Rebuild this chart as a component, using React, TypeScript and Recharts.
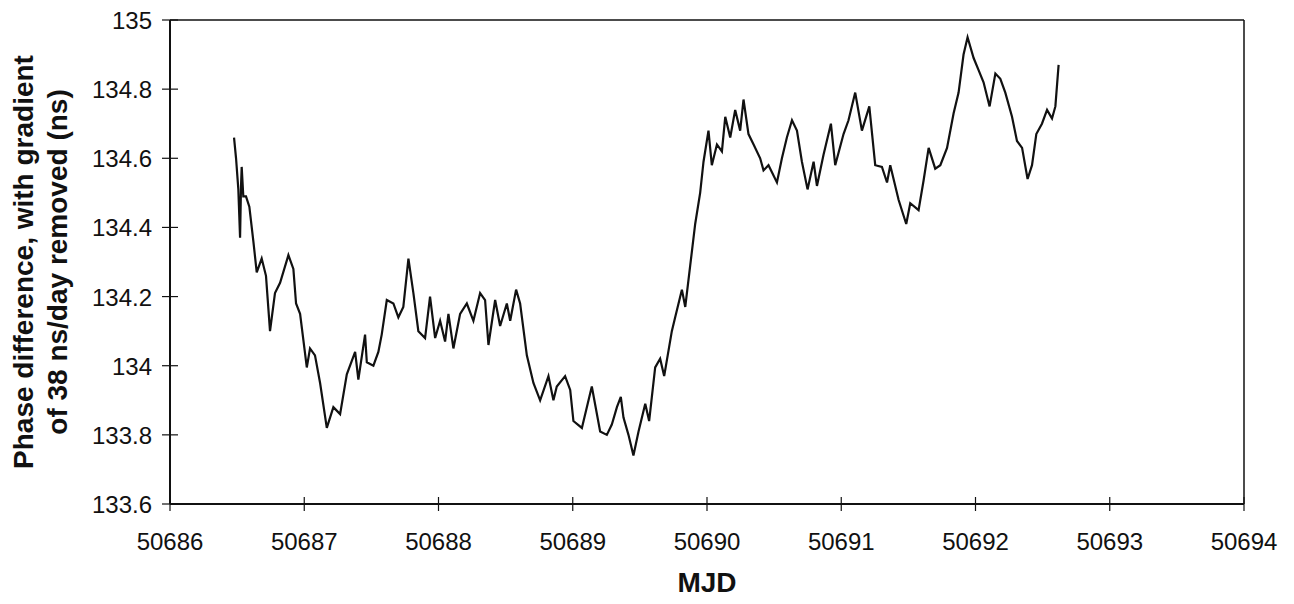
import {LineChart, Line, XAxis, YAxis, ReferenceLine} from "recharts"

const mjd = [
    50686.477, 50686.492, 50686.509, 50686.522, 50686.529, 50686.534, 50686.546, 50686.566, 50686.591, 50686.621,
    50686.646, 50686.683, 50686.715, 50686.745, 50686.782, 50686.820, 50686.882, 50686.919, 50686.939, 50686.969,
    50687.019, 50687.043, 50687.080, 50687.118, 50687.168, 50687.217, 50687.267, 50687.317, 50687.379, 50687.403,
    50687.453, 50687.466, 50687.515, 50687.552, 50687.577, 50687.615, 50687.664, 50687.701, 50687.738, 50687.776,
    50687.813, 50687.850, 50687.900, 50687.937, 50687.975, 50688.012, 50688.049, 50688.074, 50688.111, 50688.161,
    50688.211, 50688.260, 50688.310, 50688.347, 50688.372, 50688.422, 50688.459, 50688.509, 50688.534, 50688.578,
    50688.608, 50688.658, 50688.707, 50688.757, 50688.819, 50688.856, 50688.881, 50688.943, 50688.981, 50689.005,
    50689.068, 50689.142, 50689.204, 50689.254, 50689.291, 50689.329, 50689.358, 50689.378, 50689.415, 50689.452,
    50689.490, 50689.540, 50689.569, 50689.614, 50689.651, 50689.681, 50689.738, 50689.763, 50689.813, 50689.838,
    50689.875, 50689.912, 50689.949, 50689.974, 50690.011, 50690.036, 50690.074, 50690.111, 50690.136, 50690.173,
    50690.210, 50690.247, 50690.272, 50690.309, 50690.347, 50690.396, 50690.421, 50690.458, 50690.521, 50690.558,
    50690.595, 50690.633, 50690.670, 50690.707, 50690.749, 50690.794, 50690.819, 50690.868, 50690.923, 50690.955,
    50691.017, 50691.054, 50691.104, 50691.154, 50691.209, 50691.253, 50691.303, 50691.341, 50691.365, 50691.427,
    50691.484, 50691.514, 50691.576, 50691.613, 50691.651, 50691.700, 50691.738, 50691.788, 50691.837, 50691.874,
    50691.911, 50691.941, 50691.986, 50692.023, 50692.060, 50692.105, 50692.148, 50692.185, 50692.222, 50692.272,
    50692.309, 50692.347, 50692.388, 50692.421, 50692.453, 50692.495, 50692.533, 50692.570, 50692.595, 50692.619,
]

const phaseNs = [
    134.66, 134.60, 134.51, 134.37, 134.52, 134.575, 134.49, 134.49, 134.46, 134.36,
    134.27, 134.31, 134.26, 134.10, 134.21, 134.24, 134.32, 134.28, 134.18, 134.15,
    133.995, 134.05, 134.03, 133.95, 133.82, 133.88, 133.86, 133.975, 134.04, 133.96,
    134.09, 134.01, 134.00, 134.04, 134.09, 134.19, 134.18, 134.14, 134.17, 134.31,
    134.21, 134.10, 134.08, 134.20, 134.08, 134.13, 134.07, 134.15, 134.05, 134.15,
    134.18, 134.13, 134.21, 134.19, 134.06, 134.19, 134.115, 134.18, 134.13, 134.22,
    134.18, 134.03, 133.95, 133.90, 133.97, 133.90, 133.94, 133.97, 133.93, 133.84,
    133.82, 133.94, 133.81, 133.80, 133.83, 133.88, 133.91, 133.85, 133.80, 133.74,
    133.81, 133.89, 133.84, 133.995, 134.02, 133.97, 134.10, 134.14, 134.22, 134.17,
    134.29, 134.41, 134.50, 134.59, 134.68, 134.58, 134.64, 134.62, 134.72, 134.66,
    134.74, 134.68, 134.77, 134.67, 134.64, 134.60, 134.565, 134.58, 134.53, 134.60,
    134.66, 134.71, 134.68, 134.59, 134.51, 134.59, 134.52, 134.61, 134.70, 134.58,
    134.67, 134.71, 134.79, 134.68, 134.75, 134.58, 134.575, 134.53, 134.58, 134.48,
    134.41, 134.47, 134.45, 134.535, 134.63, 134.57, 134.58, 134.63, 134.73, 134.79,
    134.90, 134.95, 134.89, 134.855, 134.82, 134.75, 134.845, 134.83, 134.79, 134.72,
    134.65, 134.63, 134.54, 134.58, 134.67, 134.70, 134.74, 134.715, 134.75, 134.87,
]

const xTicks = [50686, 50687, 50688, 50689, 50690, 50691, 50692, 50693, 50694]
const yTicks = [133.6, 133.8, 134, 134.2, 134.4, 134.6, 134.8, 135]
const yTickLabels = ["133.6", "133.8", "134", "134.2", "134.4", "134.6", "134.8", "135"]

const data = mjd.map((m, i) => ({mjd: m, phase: phaseNs[i]}))

const FONT = "'Liberation Sans', Arial, sans-serif"
const INK = "#111"

const XTick = (props: any) => {
    const {x, y, payload} = props
    return (
        <g>
            <line x1={x} x2={x} y1={y - 7} y2={y + 7} stroke={INK} strokeWidth={1.2} />
            <text x={x} y={y + 46} textAnchor="middle" fontSize={24} fontFamily={FONT} fill={INK}>
                {payload.value}
            </text>
        </g>
    )
}

const YTick = (props: any) => {
    const {x, y, payload} = props
    const idx = yTicks.indexOf(payload.value)
    return (
        <g>
            <line x1={x - 8} x2={x + 8} y1={y} y2={y} stroke={INK} strokeWidth={1.2} />
            <text x={x - 18} y={y + 9} textAnchor="end" fontSize={24} fontFamily={FONT} fill={INK}>
                {idx >= 0 ? yTickLabels[idx] : payload.value}
            </text>
        </g>
    )
}

const YTitle = () => (
    <text transform="rotate(-90)" textAnchor="middle" fontSize={28} fontWeight="bold" fontFamily={FONT} fill={INK}>
        <tspan x={-254} y={25}>Phase difference, with gradient</tspan>
        <tspan x={-254} y={59}>of 38 ns/day removed (ns)</tspan>
    </text>
)

const XTitle = (props: any) => {
    const vb = props.viewBox || {x: 162, y: 496, width: 1074}
    return (
        <text x={vb.x + vb.width / 2} y={584} textAnchor="middle" fontSize={28} fontWeight="bold" fontFamily={FONT} fill={INK}>
            MJD
        </text>
    )
}

export default function App() {
    return (
        <div style={{marginBottom: -8}}>
            <LineChart
                width={1278}
                height={594}
                data={data}
                margin={{top: 12, right: 42, left: 0, bottom: 6}}
            >
                <XAxis
                    dataKey="mjd"
                    type="number"
                    domain={[50686, 50694]}
                    ticks={xTicks}
                    tickSize={0}
                    tickMargin={0}
                    tickLine={false}
                    tick={<XTick />}
                    height={92}
                    axisLine={{stroke: INK, strokeWidth: 2}}
                    label={{content: XTitle}}
                />
                <YAxis
                    type="number"
                    domain={[133.6, 135]}
                    ticks={yTicks}
                    tickSize={0}
                    tickMargin={0}
                    tickLine={false}
                    tick={<YTick />}
                    width={162}
                    axisLine={{stroke: INK, strokeWidth: 2}}
                    label={{content: YTitle}}
                />
                <ReferenceLine y={135} stroke={INK} strokeWidth={1.5} />
                <ReferenceLine x={50694} stroke={INK} strokeWidth={1.5} />
                <Line
                    type="linear"
                    dataKey="phase"
                    stroke={INK}
                    strokeWidth={2.2}
                    dot={false}
                    isAnimationActive={false}
                />
            </LineChart>
        </div>
    )
}
